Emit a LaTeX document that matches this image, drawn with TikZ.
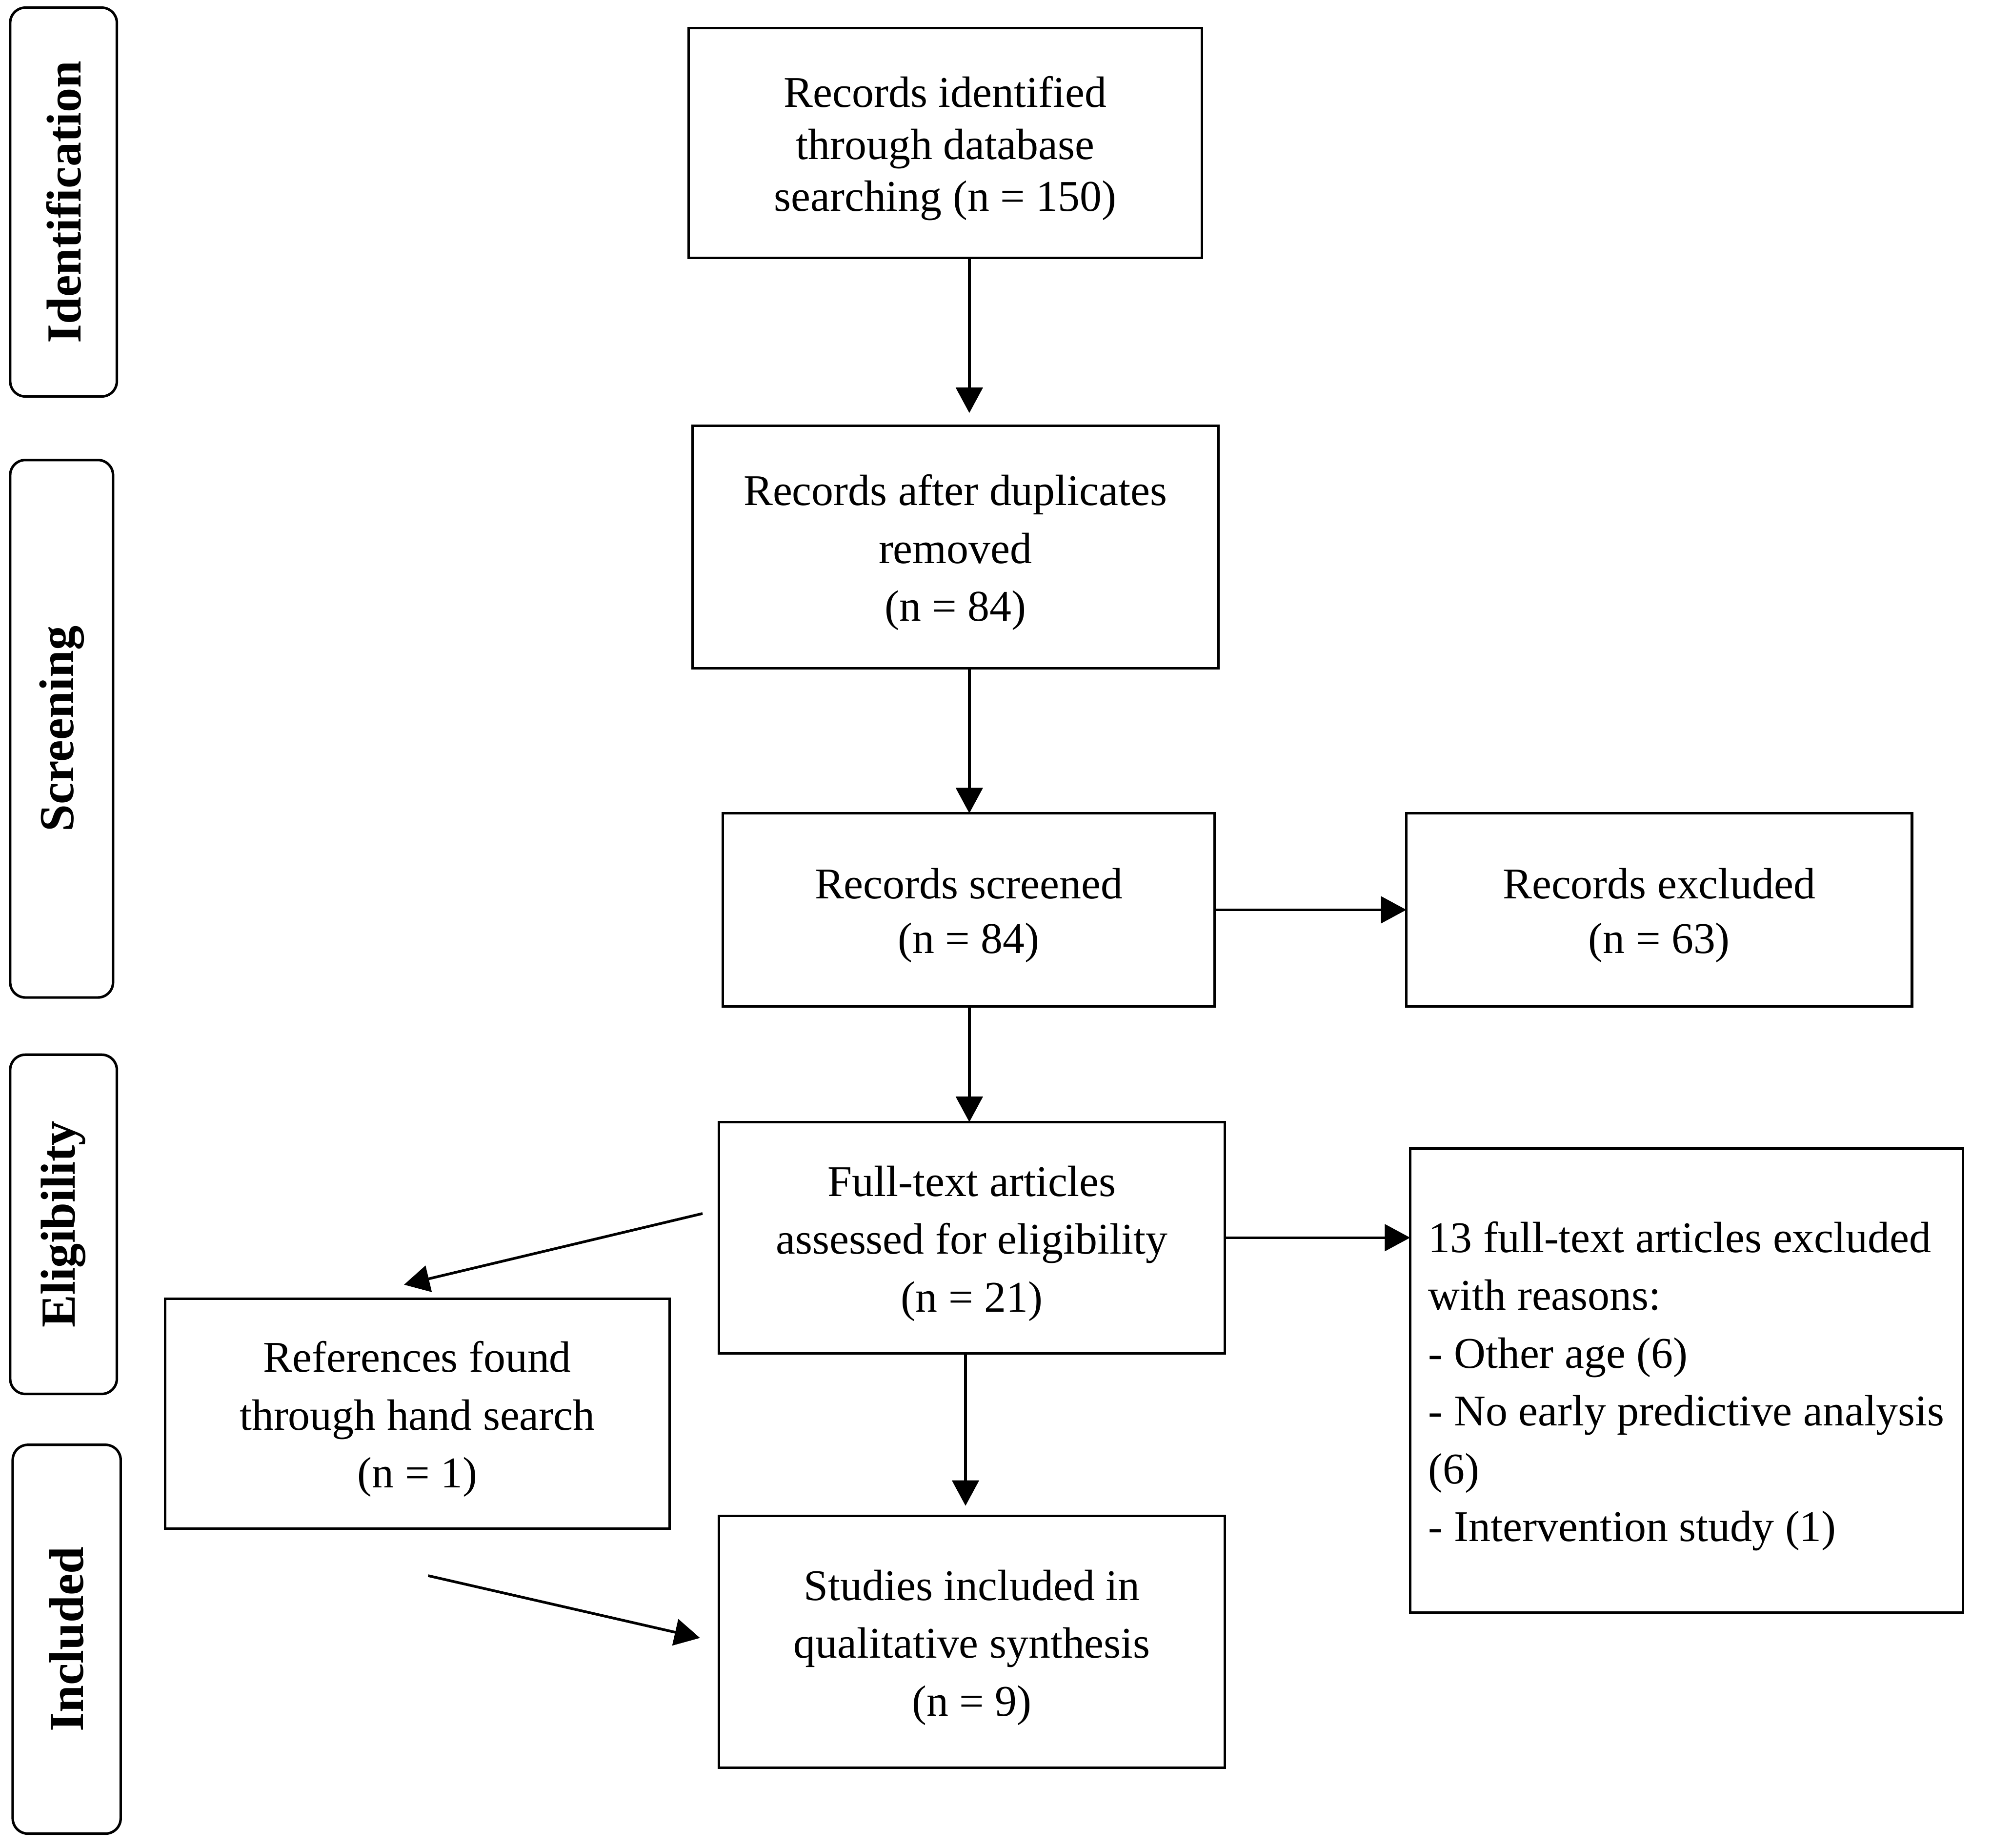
\documentclass[tikz,border=0pt]{standalone}
\usepackage{fontspec}
\setmainfont{Liberation Serif}
\usetikzlibrary{arrows.meta,calc}
\newcommand\mytopgap{\rule{0pt}{33pt}}
\begin{document}
\begin{tikzpicture}[x=1pt,y=-1pt,
  every node/.style={inner sep=0pt, outer sep=0pt},
  flowbox/.style={draw, line width=2pt, rectangle, align=center, font=\fontsize{34.5}{45.5}\selectfont},
  phase/.style={draw, line width=2pt, rounded corners=12pt, rotate=90, font=\fontsize{38.5}{46}\selectfont\bfseries},
  arr/.style={line width=2.1pt, -{Triangle[length=20pt,width=21pt]}}
]
\path[use as bounding box, fill=white] (0,0) rectangle (1568,1454);

% phase labels
\node[phase, minimum width=306pt, minimum height=84pt] (p1) at (50,159) {Identification};
\node[phase, minimum width=423pt, minimum height=81pt] (p2) at (48.5,573.5) {Screening};
\node[phase, minimum width=267pt, minimum height=84pt] (p3) at (50,963.5) {Eligibility};
\node[phase, minimum width=306pt, minimum height=85pt] (p4) at (52.5,1290) {Included};

% boxes
\node[flowbox, minimum width=404pt, minimum height=181pt, font=\fontsize{34.5}{41}\selectfont] (b1) at (744,112.5) {\mytopgap Records identified\\through database\\searching (n = 150)};
\node[flowbox, minimum width=414pt, minimum height=191pt] (b2) at (752,430.5) {\mytopgap Records after duplicates\\removed\\(n = 84)};
\node[flowbox, minimum width=387pt, minimum height=152pt, font=\fontsize{34.5}{43}\selectfont] (b3) at (762.5,716) {\mytopgap Records screened\\(n = 84)};
\node[flowbox, minimum width=398pt, minimum height=152pt, font=\fontsize{34.5}{43}\selectfont] (b4) at (1306,716) {\mytopgap Records excluded\\(n = 63)};
\node[flowbox, minimum width=398pt, minimum height=182pt] (b5) at (765,974) {\mytopgap Full-text articles\\assessed for eligibility\\(n = 21)};
\node[flowbox, align=left, minimum width=435pt, minimum height=365pt] (b6) at (1327.5,1086.5) {\mytopgap 13 full-text articles excluded\\with reasons:\\- Other age (6)\\- No early predictive analysis\\(6)\\- Intervention study (1)};
\node[flowbox, minimum width=397pt, minimum height=181pt] (b7) at (328.5,1112.5) {\mytopgap References found\\through hand search\\(n = 1)};
\node[flowbox, minimum width=398pt, minimum height=198pt] (b8) at (765,1292) {\mytopgap Studies included in\\qualitative synthesis\\(n = 9)};

% helper coordinates
\coordinate (xa) at (763,0);
\coordinate (xb) at (760,0);
\coordinate (s7) at (553,955);
\coordinate (e7) at (318,1011);
\coordinate (s8) at (337,1240);
\coordinate (e8) at (551,1289);

% connectors
\draw[arr] (b1.south -| xa) -- ($(b2.north -| xa)+(0,-10)$);
\draw[arr] (b2.south -| xa) -- (b3.north -| xa);
\draw[arr] (b3.east) -- (b4.west);
\draw[arr] (b3.south -| xa) -- (b5.north -| xa);
\draw[arr] (b5.east) -- (b6.west |- b5.east);
\draw[arr] (b5.south -| xb) -- ($(b8.north -| xb)+(0,-8)$);
\draw[arr] (s7) -- (e7);
\draw[arr] (s8) -- (e8);
\end{tikzpicture}
\end{document}
